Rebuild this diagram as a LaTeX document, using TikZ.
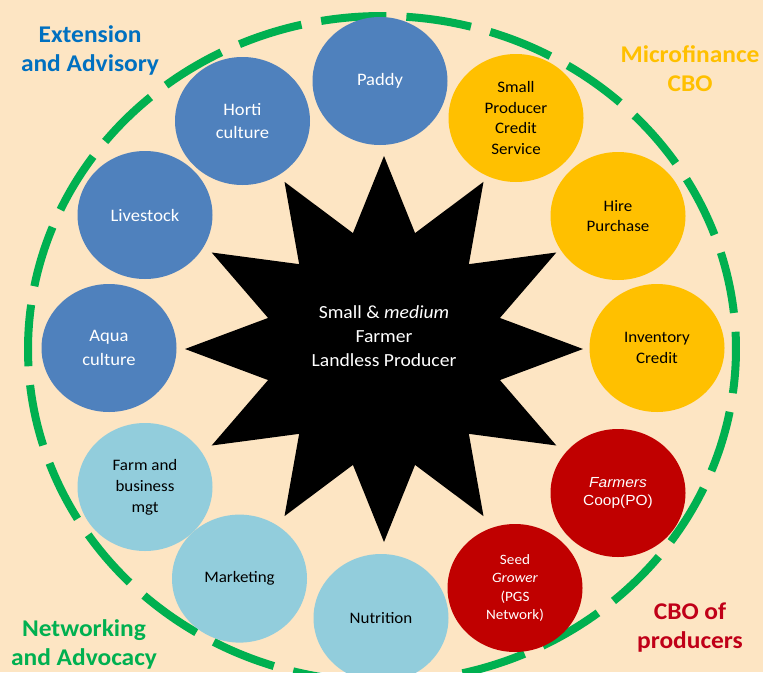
\documentclass[tikz,border=0pt]{standalone}
\usepackage{fontspec}
\setmainfont{Carlito}[FakeStretch=1.06]
\newfontfamily\arialf{Liberation Sans}[FakeStretch=1.06]
\usetikzlibrary{shapes.geometric}
\definecolor{bg}{HTML}{FDE5C3}
\definecolor{cblue}{HTML}{4F81BD}
\definecolor{clight}{HTML}{92CDDC}
\definecolor{cyellow}{HTML}{FFC000}
\definecolor{cred}{HTML}{C00000}
\definecolor{cgreen}{HTML}{00B050}
\definecolor{tblue}{HTML}{0070C0}
\definecolor{tred}{HTML}{C00018}
\tikzset{
  bub/.style={ellipse, minimum width=135pt, minimum height=128pt, inner sep=0pt, align=center},
  bluebub/.style={bub, fill=cblue, text=white, font=\fontsize{17.5}{23.5}\selectfont},
  yelbub/.style={bub, fill=cyellow, text=black, font=\fontsize{16}{20.7}\selectfont},
  lightbub/.style={bub, fill=clight, text=black, font=\fontsize{16}{21}\selectfont},
  redbub/.style={bub, fill=cred, text=white},
  corner/.style={align=center, font=\bfseries\fontsize{24}{29.5}\selectfont},
  ringdash/.style={cgreen, line width=8pt}
}
\begin{document}
\begin{tikzpicture}[x=1pt,y=1pt]
\fill[bg] (0,0) rectangle (763,-672);
\useasboundingbox (0,0) rectangle (763,-672);

% dashed ring
\foreach \k in {0,...,25} {
  \pgfmathsetmacro\a{87.7+1.6+13.846*\k}
  \pgfmathsetmacro\b{\a+10.6}
  \draw[ringdash] ({382+354*cos(\a)},{-349+333*sin(\a)}) arc[start angle=\a, end angle=\b, x radius=354, y radius=333];
}

% star
\fill[black] plot[samples=24, domain=0:23, variable=\k]
  ({384+(159.5+39.5*cos(180*\k))*cos(90+15*\k)}, {-349+(156.5+36.5*cos(180*\k))*sin(90+15*\k)}) -- cycle;
\node[text=white, align=center, font=\fontsize{18.5}{24}\selectfont] (core) at (384,-336)
  {Small \& \textit{medium}\\Farmer\\Landless Producer};

% bubbles
\node[bluebub] (paddy) at (380,-81) {Paddy};
\node[bluebub] (horti) at (242.5,-121) {Horti\\culture};
\node[bluebub] (livestock) at (145,-215) {Livestock};
\node[bluebub] (aqua) at (109,-348) {Aqua\\culture};

\node[yelbub] (spcs) at (516,-118) {Small\\Producer\\Credit\\Service};
\node[yelbub] (hire) at (618,-216) {Hire\\Purchase};
\node[yelbub] (inv) at (657,-348) {Inventory\\Credit};

\node[redbub, font=\arialf\fontsize{14.6}{18}\selectfont] (coop) at (618,-493) {\textit{Farmers}\\Coop(PO)};
\node[redbub, font=\fontsize{14.3}{18.2}\selectfont] (seed) at (515,-588) {Seed\\\textit{Grower}\\(PGS\\Network)};

\node[lightbub] (nutri) at (381,-618) {Nutrition};
\node[lightbub] (market) at (239.5,-578.6) {Marketing};
\node[lightbub] (farm) at (145,-487) {Farm and\\business\\mgt};

% corner labels
\node[corner, text=tblue] (ext) at (90,-50.3) {Extension\\and Advisory};
\node[corner, text=cyellow] (micro) at (690,-68.6) {Microfinance\\CBO};
\node[corner, text=cgreen] (net) at (84,-644.5) {Networking\\and Advocacy};
\node[corner, text=tred] (cbo) at (690,-627.5) {CBO of\\producers};
\end{tikzpicture}
\end{document}
